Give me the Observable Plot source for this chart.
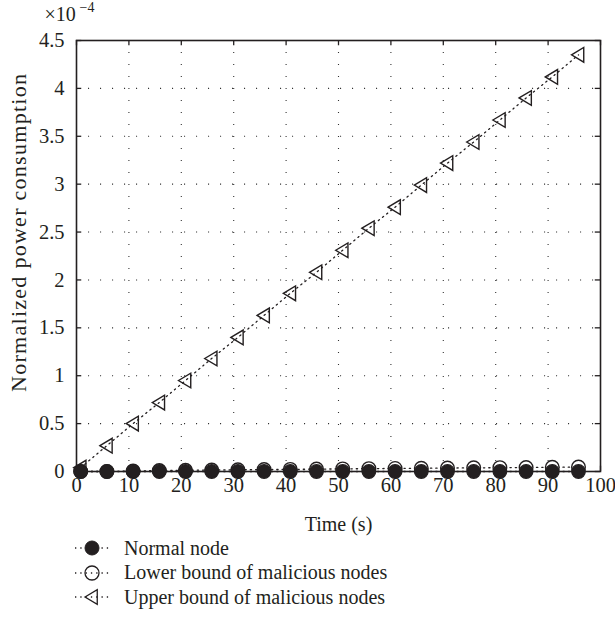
<!DOCTYPE html>
<html>
<head>
<meta charset="utf-8">
<script src="https://cdn.jsdelivr.net/npm/d3@7"></script>
<script src="https://cdn.jsdelivr.net/npm/@observablehq/plot@0.6"></script>
<style>
  html, body { margin: 0; padding: 0; background: #fff; }
  body { width: 615px; height: 623px; overflow: hidden; font-family: "Liberation Serif", "Times New Roman", serif; color: #231f20; }
  #legend { padding-left: 72px; }
  .row { height: 24.5px; display: flex; align-items: center; font-size: 20px; }
  .row svg { width: 45px; height: 24px; flex: none; }
  .row span { margin-left: 7px; }
</style>
</head>
<body>
<div id="chart"></div>
<div id="legend"></div>
<script>
// Time (s)
const time = [0.8, 5.8, 10.8, 15.8, 20.8, 25.8, 30.8, 35.8, 40.8, 45.8, 50.8, 55.8, 60.8, 65.8, 70.8, 75.8, 80.8, 85.8, 90.8, 95.8];
// Normalized power consumption (×10^-4)
const normalNode = [0.00, 0.00, 0.00, 0.00, 0.00, 0.00, 0.00, 0.00, 0.00, 0.00, 0.00, 0.00, 0.00, 0.00, 0.00, 0.00, 0.00, 0.00, 0.00, 0.00];
const lowerBound = [0.00, 0.00, 0.005, 0.01, 0.012, 0.015, 0.018, 0.02, 0.022, 0.025, 0.027, 0.03, 0.032, 0.034, 0.036, 0.038, 0.04, 0.042, 0.044, 0.046];
const upperBound = [0.04, 0.27, 0.50, 0.72, 0.95, 1.18, 1.40, 1.63, 1.86, 2.08, 2.31, 2.54, 2.76, 2.99, 3.22, 3.44, 3.67, 3.90, 4.12, 4.35];
const seriesNames = ["Normal node", "Lower bound of malicious nodes", "Upper bound of malicious nodes"];
const xTicks = [0, 10, 20, 30, 40, 50, 60, 70, 80, 90, 100];
const yTicks = [0, 0.5, 1, 1.5, 2, 2.5, 3, 3.5, 4, 4.5];
const yTickLabels = ["0", "0.5", "1", "1.5", "2", "2.5", "3", "3.5", "4", "4.5"];

const toRows = vals => time.map((t, i) => ({t, v: vals[i]}));
const normalRows = toRows(normalNode);
const lowerRows = toRows(lowerBound);
const upperRows = toRows(upperBound);

const ink = "#231f20";
const triLeft = {
  draw(ctx, size) {
    const r = Math.sqrt(size / Math.PI);
    ctx.moveTo(-r, 0);
    ctx.lineTo(r * 0.75, -r * 1.05);
    ctx.lineTo(r * 0.75, r * 1.05);
    ctx.closePath();
  }
};

const font = '"Liberation Serif", "Times New Roman", serif';
const lineStyle = {x: "t", y: "v", stroke: ink, strokeWidth: 1.3, strokeDasharray: "1.3,4"};

const chart = Plot.plot({
  width: 615,
  height: 536,
  marginTop: 40,
  marginBottom: 65,
  marginLeft: 76,
  marginRight: 15,
  style: {fontFamily: font, fontSize: "20px", color: ink, background: "#fff"},
  x: {domain: [0, 100]},
  y: {domain: [0, 4.5]},
  marks: [
    Plot.gridX(xTicks.slice(1, -1), {stroke: "#333", strokeOpacity: 1, strokeWidth: 1.1, strokeDasharray: "1.1,10.9"}),
    Plot.gridY(yTicks.slice(1, -1), {stroke: "#333", strokeOpacity: 1, strokeWidth: 1.1, strokeDasharray: "1.1,10.9"}),
    // inward ticks
    Plot.ruleX(xTicks, {x: d => d, y1: 0, y2: 0.055, stroke: ink, strokeWidth: 1.3}),
    Plot.ruleX(xTicks, {x: d => d, y1: 4.445, y2: 4.5, stroke: ink, strokeWidth: 1.3}),
    Plot.ruleY(yTicks, {y: d => d, x1: 0, x2: 1, stroke: ink, strokeWidth: 1.3}),
    Plot.ruleY(yTicks, {y: d => d, x1: 99, x2: 100, stroke: ink, strokeWidth: 1.3}),
    Plot.axisX(xTicks, {tickSize: 0, tickPadding: 6, fontSize: 20.5, label: null, fill: ink}),
    Plot.axisY(yTicks, {tickSize: 0, tickPadding: 12, fontSize: 20.5, label: null, fill: ink,
      tickFormat: d => yTickLabels[yTicks.indexOf(d)]}),
    Plot.frame({stroke: ink, strokeWidth: 1.6}),
    // series
    Plot.line(upperRows, lineStyle),
    Plot.line(lowerRows, lineStyle),
    Plot.line(normalRows, lineStyle),
    Plot.dot(upperRows, {x: "t", y: "v", symbol: triLeft, r: 7, stroke: ink, strokeWidth: 1.4, fill: "none"}),
    Plot.dot(lowerRows, {x: "t", y: "v", r: 6.8, stroke: ink, strokeWidth: 1.4, fill: "white"}),
    Plot.dot(normalRows, {x: "t", y: "v", r: 6.8, stroke: ink, strokeWidth: 1.2, fill: ink}),
    // labels
    Plot.text(["Time (s)"], {frameAnchor: "bottom", textAnchor: "middle", lineAnchor: "middle", dy: 53, fontSize: 20, fill: ink}),
    Plot.text(["Normalized power consumption"], {frameAnchor: "left", textAnchor: "middle", lineAnchor: "middle", dx: -58, dy: -23, rotate: -90, fontSize: 22, fill: ink}),
    Plot.text(["×10"], {frameAnchor: "top-left", textAnchor: "start", lineAnchor: "middle", dx: -32, dy: -26, fontSize: 20, fill: ink}),
    Plot.text(["−4"], {frameAnchor: "top-left", textAnchor: "start", lineAnchor: "middle", dx: 3, dy: -33, fontSize: 14, fill: ink})
  ]
});
document.getElementById("chart").appendChild(chart);
// match the y label's length in the reference
d3.select(chart).selectAll("text").filter(function() { return this.textContent === "Normalized power consumption"; })
  .attr("textLength", 318).attr("lengthAdjust", "spacing");

// legend
const legend = d3.select("#legend");
const markers = ["filled", "open", "tri"];
seriesNames.forEach((name, i) => {
  const row = legend.append("div").attr("class", "row");
  const svg = row.append("svg").attr("viewBox", "0 0 45 24");
  svg.append("line").attr("x1", 3).attr("x2", 38).attr("y1", 12).attr("y2", 12)
    .attr("stroke", ink).attr("stroke-width", 1.3).attr("stroke-dasharray", "1.3,4");
  const m = markers[i];
  if (m === "filled") {
    svg.append("circle").attr("cx", 20).attr("cy", 12).attr("r", 7).attr("fill", ink).attr("stroke", ink);
  } else if (m === "open") {
    svg.append("circle").attr("cx", 20).attr("cy", 12).attr("r", 7).attr("fill", "none").attr("stroke", ink).attr("stroke-width", 1.3);
  } else {
    svg.append("path").attr("d", d3.symbol(triLeft, 49 * Math.PI)()).attr("transform", "translate(20,12)")
      .attr("fill", "none").attr("stroke", ink).attr("stroke-width", 1.3);
  }
  row.append("span").text(name);
});
</script>
</body>
</html>
